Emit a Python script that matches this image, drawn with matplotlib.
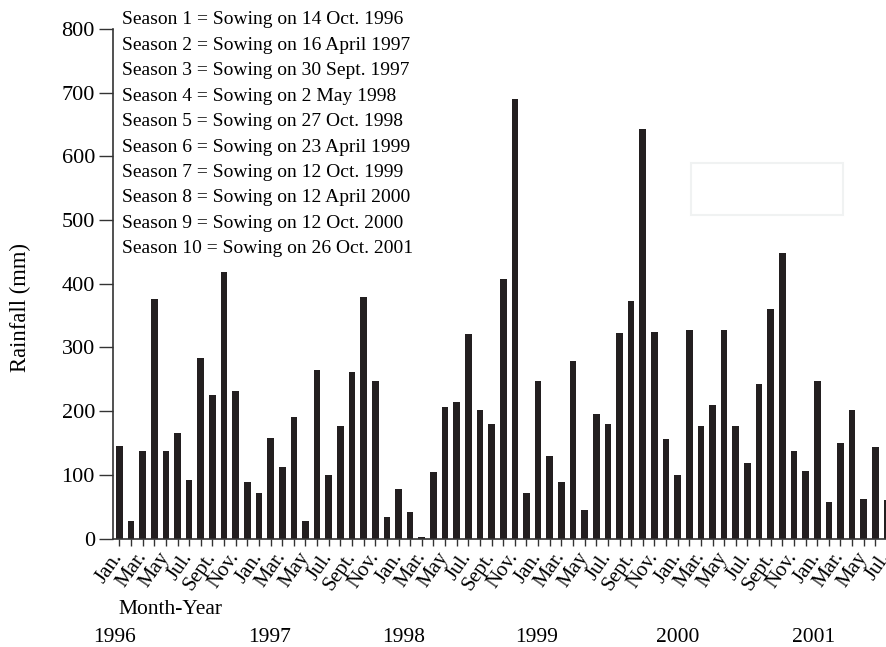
import matplotlib
matplotlib.use("Agg")
import matplotlib.pyplot as plt
from matplotlib.patches import Rectangle
import matplotlib.transforms as mtransforms

plt.rcParams['font.family'] = ['Liberation Serif', 'DejaVu Serif']

# Monthly rainfall (mm), Jan 1996 .. Jul 2001
rainfall = [
    145, 28, 138, 376, 137, 165, 92, 284, 226, 418, 231, 88,      # 1996
    72, 158, 112, 191, 27, 265, 100, 176, 261, 379, 248, 33,      # 1997
    77, 41, 2, 104, 207, 214, 321, 201, 180, 408, 690, 72,        # 1998
    248, 130, 88, 278, 44, 195, 179, 323, 373, 643, 324, 156,     # 1999
    99, 327, 177, 210, 327, 176, 119, 243, 360, 449, 138, 106,    # 2000
    248, 57, 150, 202, 62, 143, 61,                               # 2001
]
month_names = ["Jan.", "Feb.", "Mar.", "Apr.", "May", "Jun.",
               "Jul.", "Aug.", "Sept.", "Oct.", "Nov.", "Dec."]
years = ["1996", "1997", "1998", "1999", "2000", "2001"]
year_label_pos = [-0.45, 12.9, 24.4, 35.9, 48.0, 59.7]
seasons = [
    "Season 1 = Sowing on 14 Oct. 1996",
    "Season 2 = Sowing on 16 April 1997",
    "Season 3 = Sowing on 30 Sept. 1997",
    "Season 4 = Sowing on 2 May 1998",
    "Season 5 = Sowing on 27 Oct. 1998",
    "Season 6 = Sowing on 23 April 1999",
    "Season 7 = Sowing on 12 Oct. 1999",
    "Season 8 = Sowing on 12 April 2000",
    "Season 9 = Sowing on 12 Oct. 2000",
    "Season 10 = Sowing on 26 Oct. 2001",
]

W, H = 887, 647
fig = plt.figure(figsize=(W / 100, H / 100), dpi=100)
ax = fig.add_axes([113 / W, 1 - 538.5 / H, 1 - 113 / W, (538.5 - 29) / H])

x = list(range(len(rainfall)))
ax.bar(x, rainfall, width=0.57, color='#231f20', edgecolor='none')

ax.set_xlim(-0.55, 66.0)
ax.set_ylim(0, 800)
ax.set_yticks(range(0, 801, 100))
ax.set_xticks(x)
labels = [month_names[i % 12] if i % 2 == 0 else "" for i in x]
ax.set_xticklabels(labels, rotation=55, ha='right', va='center',
                   rotation_mode='anchor', fontsize=15)
ax.tick_params(axis='y', direction='out', length=10, width=1, labelsize=16, pad=3,
               color='#333333')
ax.tick_params(axis='x', direction='out', length=5, width=1, pad=6,
               color='#333333')

for s in ['top', 'right']:
    ax.spines[s].set_visible(False)
for s in ['left', 'bottom']:
    ax.spines[s].set_color('#333333')
    ax.spines[s].set_linewidth(1.2)

fig.text(20 / W, 1 - 307 / H, "Rainfall (mm)", fontsize=16.3, rotation=90,
         ha='center', va='center')

for i, s in enumerate(seasons):
    fig.text(122 / W, 1 - (20 + 25.4 * i) / H, s, fontsize=14,
             ha='left', va='center')

fig.text(170 / W, 1 - 609 / H, "Month-Year", fontsize=15.5, ha='center', va='center')
trans = mtransforms.blended_transform_factory(ax.transData, fig.transFigure)
for pos, yr in zip(year_label_pos, years):
    fig.text(pos, 1 - 638 / H, yr, fontsize=15.5, ha='center', va='center',
             transform=trans)

fig.patches.append(Rectangle((691 / W, 1 - 215 / H), 152 / W, 52 / H,
                             transform=fig.transFigure, fill=False,
                             edgecolor='#f0f2f2', linewidth=1.5))

fig.savefig("out.png", dpi=100)
